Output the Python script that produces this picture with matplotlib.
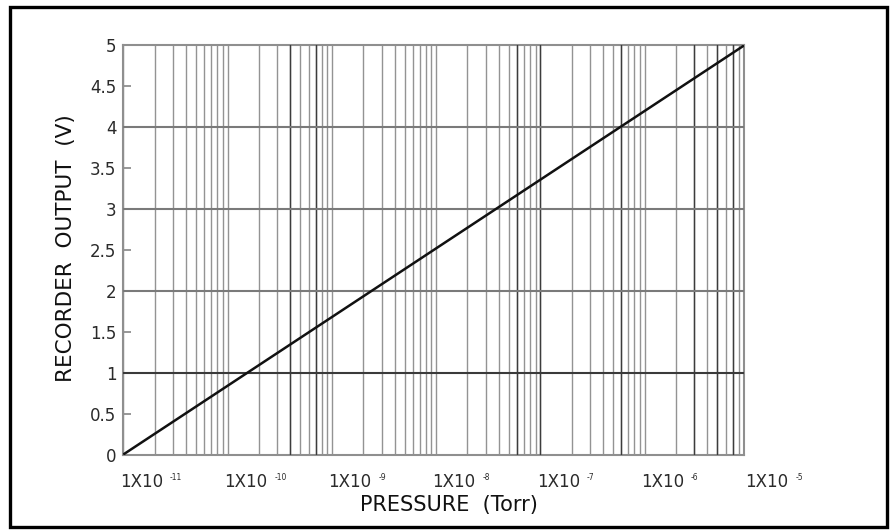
import matplotlib
matplotlib.use("Agg")
import matplotlib.pyplot as plt
from matplotlib.ticker import LogLocator, FixedLocator, FuncFormatter, NullFormatter
from matplotlib.patches import Rectangle

# ---- data ----
pressure = [1e-11, 9e-6]          # Torr (left and right ends of the line)
voltage = [0.0, 5.0]              # recorder output (V)
x_label_exponents = [-11, -10, -9, -8, -7, -6, -5]
y_ticks = [0, 0.5, 1, 1.5, 2, 2.5, 3, 3.5, 4, 4.5, 5]
y_grid = [1, 2, 3, 4]
dark_vlines = [4e-10, 7e-10, 6e-8, 1e-7, 6e-7, 3e-6, 5e-6, 7e-6]

plt.rcParams['font.family'] = ['DejaVu Sans']

fig = plt.figure(figsize=(8.93, 5.30), dpi=100)
W, H = 893, 530
ax = fig.add_axes([123.3 / W, 1 - 454.5 / H, (744.0 - 123.3) / W, (454.5 - 45.5) / H])

ax.set_xscale('log')
ax.set_xlim(pressure[0], pressure[-1])
ax.set_ylim(0, 5)

# vertical log grid
ax.xaxis.set_major_locator(LogLocator(base=10, numticks=20))
ax.xaxis.set_minor_locator(LogLocator(base=10, subs=range(2, 10), numticks=200))
ax.xaxis.set_major_formatter(NullFormatter())
ax.xaxis.set_minor_formatter(NullFormatter())
ax.tick_params(axis='x', which='both', length=0)
ax.grid(True, which='both', axis='x', color='#939393', linewidth=1.0)
for xv in dark_vlines:
    ax.axvline(xv, color='#3c3c3c', linewidth=1.0, zorder=2.6)

# horizontal grid
for yv in y_grid:
    ax.axhline(yv, color='#3a3a3a' if yv == 1 else '#7a7a7a', linewidth=1.5, zorder=2.6)

# y ticks
ax.yaxis.set_major_locator(FixedLocator(y_ticks))
ax.yaxis.set_major_formatter(FuncFormatter(lambda v, p: f'{v:g}'))
ax.tick_params(axis='y', which='major', direction='in', length=6, width=1.3,
               color='#8f8f8f', pad=5, labelsize=12, labelcolor='#2a2a2a')
ax.tick_params(axis='y', which='minor', length=0)

for sp in ax.spines.values():
    sp.set_color('#8f8f8f')
    sp.set_linewidth(1.5)

# line
ax.plot(pressure, voltage, color='#111111', linewidth=1.8, zorder=3, solid_capstyle='butt')

# x tick labels 1X10^e
for e in x_label_exponents:
    t = ax.annotate('1X10', xy=(10.0 ** e, 0), xycoords=('data', 'axes fraction'),
                    xytext=(-2.5, -13.5), textcoords='offset points',
                    ha='left', va='top', fontsize=12, color='#2a2a2a',
                    annotation_clip=False)
    ax.annotate(f'-{abs(e)}', xy=(1, 1), xycoords=t, xytext=(5.0, 0.5),
                textcoords='offset points', ha='left', va='top',
                fontsize=5.5, color='#2a2a2a', annotation_clip=False)

# axis titles
fig.text(448.5 / W, 1 - 505 / H, 'PRESSURE  (Torr)', ha='center', va='center',
         fontsize=15, color='#111111')
fig.text(66.5 / W, 1 - 248 / H, 'RECORDER  OUTPUT  (V)', ha='center', va='center',
         rotation=90, fontsize=15.5, color='#111111')

# outer frame
fig.add_artist(Rectangle((9.5 / W, 1 - 526.5 / H), (886.5 - 9.5) / W, (526.5 - 6.5) / H,
                         transform=fig.transFigure, fill=False,
                         edgecolor='black', linewidth=2.4))

fig.savefig('out.png', dpi=100)
